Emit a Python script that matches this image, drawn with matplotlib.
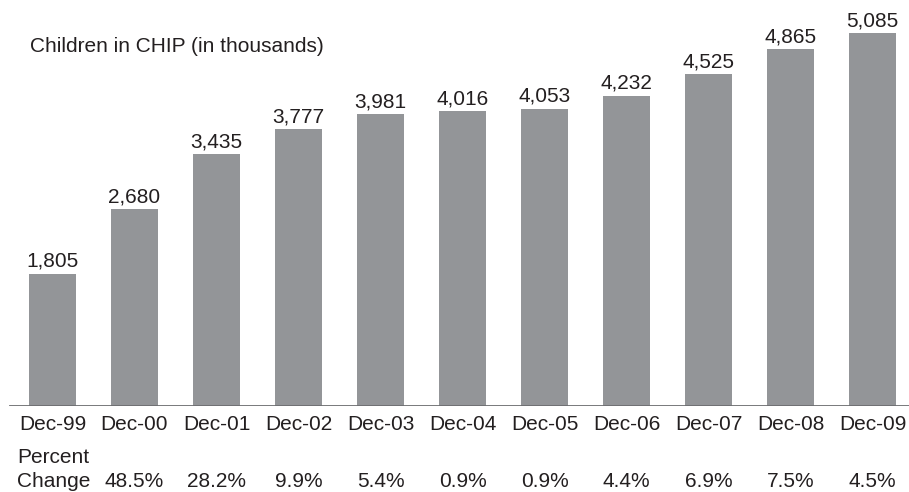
import matplotlib.pyplot as plt
from matplotlib.transforms import blended_transform_factory

# Data
dates = ['Dec-99', 'Dec-00', 'Dec-01', 'Dec-02', 'Dec-03', 'Dec-04',
         'Dec-05', 'Dec-06', 'Dec-07', 'Dec-08', 'Dec-09']
children = [1805, 2680, 3435, 3777, 3981, 4016, 4053, 4232, 4525, 4865, 5085]
pct_change = ['', '48.5%', '28.2%', '9.9%', '5.4%', '0.9%', '0.9%',
              '4.4%', '6.9%', '7.5%', '4.5%']

plt.rcParams['font.family'] = ['Liberation Sans', 'DejaVu Sans']
text_color = '#231f20'
bar_color = '#939598'
fs = 15

fig = plt.figure(figsize=(9.09, 4.92), dpi=100)
ax = fig.add_axes([0, 86 / 492, 1, 406 / 492])

x = list(range(len(dates)))
bars = ax.bar(x, children, width=0.573, color=bar_color, zorder=2)

ax.set_xlim(-52.5 / 82, (909 - 52.5) / 82)
ax.set_ylim(0, 406 / 0.07335)
ax.axis('off')

# Baseline
ax.axhline(0, xmin=10 / 909, xmax=1, color='#6d6e71', lw=1.3, zorder=3)

# Value labels above bars
for i, v in enumerate(children):
    ax.annotate(f'{v:,}', (i, v), xytext=(0, 5), textcoords='offset points',
                ha='center', va='baseline', fontsize=fs, color=text_color)

# Category and percent-change rows
trans = blended_transform_factory(ax.transData, fig.transFigure)
for i, d in enumerate(dates):
    ax.text(i, (492 - 430) / 492, d, transform=trans, ha='center',
            va='baseline', fontsize=fs, color=text_color)
    if pct_change[i]:
        ax.text(i, (492 - 487) / 492, pct_change[i], transform=trans,
                ha='center', va='baseline', fontsize=fs, color=text_color)

fig.text(17 / 909, (492 - 463) / 492, 'Percent', ha='left', va='baseline',
         fontsize=fs, color=text_color)
fig.text(17 / 909, (492 - 487) / 492, 'Change', ha='left', va='baseline',
         fontsize=fs, color=text_color)

# Title
fig.text(30 / 909, (492 - 52) / 492, 'Children in CHIP (in thousands)',
         ha='left', va='baseline', fontsize=fs, color=text_color)

fig.savefig('out.png', dpi=100)
